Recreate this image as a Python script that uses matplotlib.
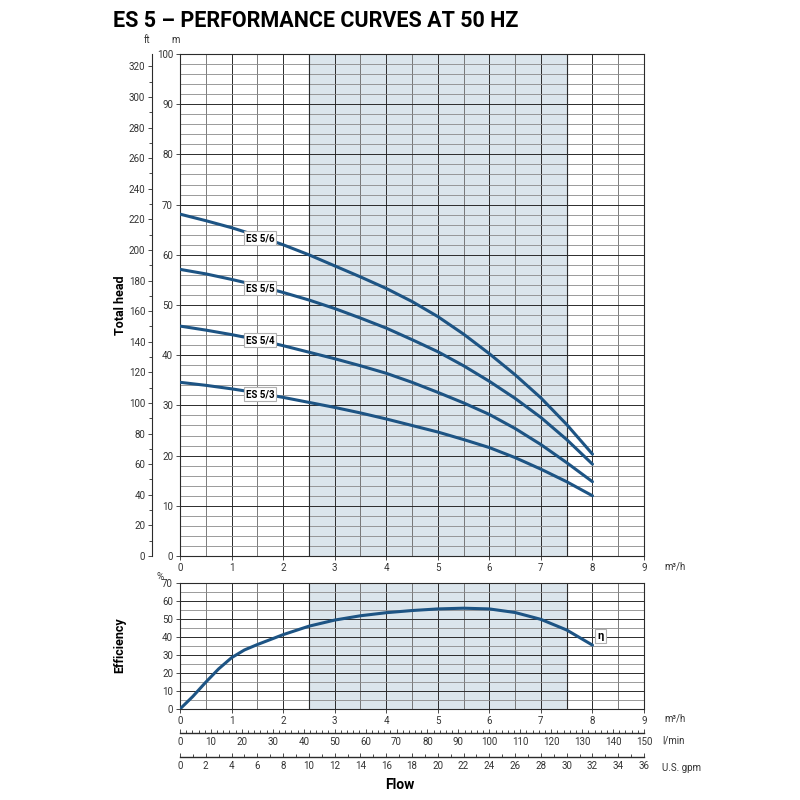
import matplotlib
matplotlib.use("Agg")
import matplotlib.pyplot as plt
from matplotlib.ticker import MultipleLocator

plt.rcParams["font.family"] = ["Roboto", "DejaVu Sans"]

# flow (m3/h) at which the head curves were read
flow = [0, 0.5, 1, 1.5, 2, 2.5, 3, 3.5, 4, 4.5, 5, 5.5, 6, 6.5, 7, 7.5, 8]

# total head (m) per model
head_es56 = [68.1, 66.8, 65.4, 63.8, 62.0, 60.0, 57.8, 55.6, 53.3, 50.7, 47.7, 44.2, 40.3, 36.1, 31.5, 26.2, 20.3]
head_es55 = [57.1, 56.2, 55.1, 53.9, 52.5, 51.0, 49.3, 47.4, 45.4, 43.1, 40.7, 37.9, 34.8, 31.4, 27.6, 23.2, 18.3]
head_es54 = [45.8, 45.0, 44.1, 43.1, 41.9, 40.6, 39.3, 37.9, 36.4, 34.6, 32.6, 30.5, 28.2, 25.4, 22.2, 18.6, 14.8]
head_es53 = [34.6, 34.0, 33.3, 32.5, 31.6, 30.6, 29.6, 28.5, 27.3, 26.0, 24.7, 23.2, 21.6, 19.6, 17.3, 14.8, 12.0]
models = ["ES 5/6", "ES 5/5", "ES 5/4", "ES 5/3"]
label_y = [63.3, 53.3, 43.0, 32.2]

# efficiency (%)
eff_flow = [0, 0.25, 0.5, 0.75, 1, 1.25, 1.5, 2, 2.5, 3, 3.5, 4, 4.5, 5, 5.5, 6, 6.5, 7, 7.5, 8]
efficiency = [0, 7.0, 14.9, 22.3, 28.5, 32.8, 35.8, 41.3, 46.0, 49.4, 51.8, 53.5, 54.7, 55.6, 56.0, 55.6, 53.6, 49.8, 43.9, 35.5]

# secondary flow scales
lmin_ticks = list(range(0, 151, 10))
gpm_ticks = list(range(0, 37, 2))

LINE = "#1d5484"
SHADE = "#dbe5ec"
DARK = "#2b2b2b"
TXT = "#333333"


def style_grid(ax, ymajor, yminor):
    ax.set_xlim(0, 9)
    ax.xaxis.set_major_locator(MultipleLocator(1))
    ax.xaxis.set_minor_locator(MultipleLocator(0.5))
    ax.yaxis.set_major_locator(MultipleLocator(ymajor))
    ax.yaxis.set_minor_locator(MultipleLocator(yminor))
    ax.grid(which="major", color=DARK, lw=0.7)
    ax.grid(which="minor", axis="x", color="#666666", lw=0.6)
    ax.grid(which="minor", axis="y", color="#8a8a8a", lw=0.6)
    ax.set_axisbelow(True)
    ax.axvspan(2.5, 7.5, color=SHADE, zorder=0)
    ax.axvline(2.5, color=DARK, lw=0.8, zorder=1)
    ax.axvline(7.5, color=DARK, lw=0.8, zorder=1)
    ax.tick_params(which="both", labelsize=7, length=3, width=0.6, colors=DARK,
                   labelcolor=TXT, pad=2)
    ax.tick_params(which="minor", length=0)
    for s in ax.spines.values():
        s.set_color(DARK)
        s.set_linewidth(0.8)


fig = plt.figure(figsize=(8, 8), dpi=100)

fig.text(0.141, 0.974, "ES 5 \u2013 PERFORMANCE CURVES AT 50 HZ", fontsize=15.5,
         fontweight="bold", fontstretch="condensed", ha="left", va="center")

# head chart
ax = fig.add_axes([0.225, 0.305, 0.58, 0.6275])
ax.set_ylim(0, 100)
style_grid(ax, 10, 2)
for h, name, ly in zip([head_es56, head_es55, head_es54, head_es53], models, label_y):
    ax.plot(flow, h, color=LINE, lw=2.2, zorder=3, solid_capstyle="round")
    ax.text(1.55, ly, name, fontsize=7, fontweight="bold", ha="center", va="center", zorder=4,
            bbox=dict(boxstyle="square,pad=0.2", fc="white", ec="#b0b0b0", lw=0.8))
fig.text(0.83, 1 - 566 / 800, "m\u00b3/h", fontsize=7, ha="left", va="center", color=TXT)

ft = ax.secondary_yaxis(-0.06, functions=(lambda m: m * 3.2808, lambda f: f / 3.2808))
ft.set_yticks(list(range(0, 321, 20)))
ft.set_yticks(list(range(0, 321, 10)), minor=True)
ft.tick_params(which="both", labelsize=7, width=0.6, colors=DARK, labelcolor=TXT, pad=2)
ft.tick_params(which="major", length=3)
ft.tick_params(which="minor", length=2)
ft.spines["left"].set_color(DARK)
ft.spines["left"].set_linewidth(0.8)

fig.text(0.184, 0.946, "ft", fontsize=7, ha="center", color=TXT)
fig.text(0.22, 0.946, "m", fontsize=7, ha="center", color=TXT)
fig.text(0.15, 0.619, "Total head", fontsize=9, fontweight="bold", fontstretch="condensed",
         rotation=90, ha="center", va="center")

# efficiency chart
ax2 = fig.add_axes([0.225, 0.11375, 0.58, 0.1575])
ax2.set_ylim(0, 70)
style_grid(ax2, 10, 5)
ax2.plot(eff_flow, efficiency, color=LINE, lw=2.2, zorder=3, solid_capstyle="round")
ax2.text(8.15, 40.5, "\u03b7", fontsize=8, fontweight="bold", ha="center", va="center", zorder=4,
         bbox=dict(boxstyle="square,pad=0.2", fc="white", ec="#b0b0b0", lw=0.8))
fig.text(0.2, 0.275, "%", fontsize=7, ha="center", color=TXT)
fig.text(0.15, 0.194, "Efficiency", fontsize=9, fontweight="bold", fontstretch="condensed",
         rotation=90, ha="center", va="center")
fig.text(0.83, 1 - 718 / 800, "m\u00b3/h", fontsize=7, ha="left", va="center", color=TXT)

# extra flow scales below the efficiency chart
lmin = ax2.secondary_xaxis(-0.19, functions=(lambda x: x * 150 / 9, lambda v: v * 9 / 150))
lmin.set_xticks(lmin_ticks)
lmin.set_xticks(list(range(0, 151, 2)), minor=True)
gpm = ax2.secondary_xaxis(-0.38, functions=(lambda x: x * 4, lambda v: v / 4))
gpm.set_xticks(gpm_ticks)
gpm.set_xticks(list(range(0, 37, 1)), minor=True)
for sec in (lmin, gpm):
    sec.tick_params(which="both", direction="in", labelsize=7, width=0.6, colors=DARK,
                    labelcolor=TXT, pad=3)
    sec.tick_params(which="major", length=3)
    sec.tick_params(which="minor", length=2)
    sec.spines["bottom"].set_color(DARK)
    sec.spines["bottom"].set_linewidth(1.0)

fig.text(0.828, 1 - 741 / 800, "l/min", fontsize=7, ha="left", va="center", color=TXT)
fig.text(0.828, 1 - 768 / 800, "U.S. gpm", fontsize=7, ha="left", va="center", color=TXT)
fig.text(0.5, 0.019, "Flow", fontsize=10, fontweight="bold", fontstretch="condensed",
         ha="center", va="center")

fig.savefig("out.png", dpi=100)
